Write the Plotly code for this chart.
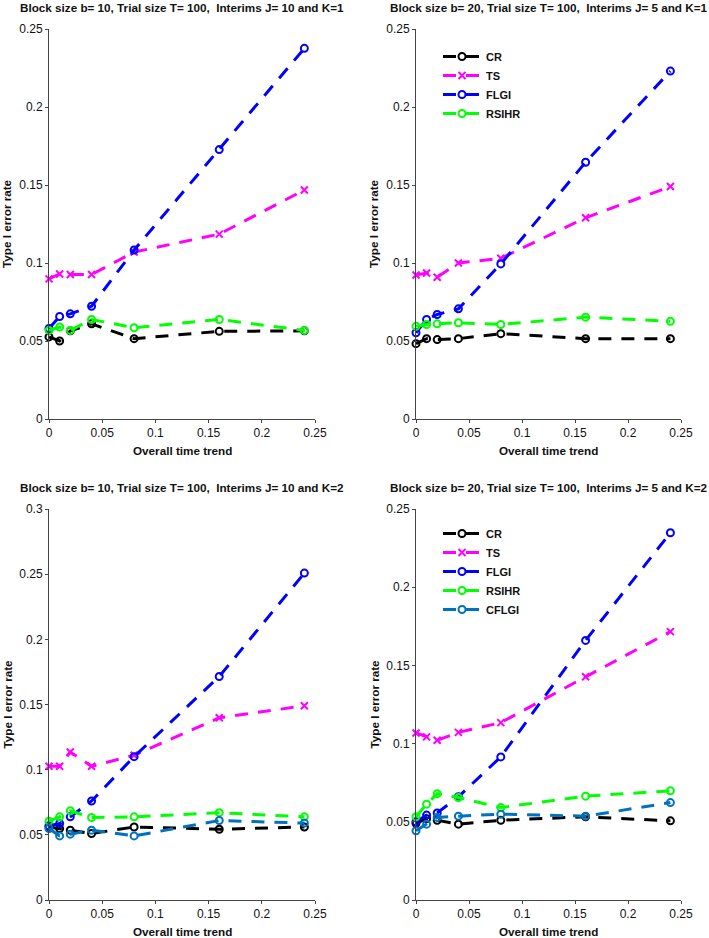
import plotly.graph_objects as go

x_trend = [0, 0.01, 0.02, 0.04, 0.08, 0.16, 0.24]
x_ticks = [0, 0.05, 0.1, 0.15, 0.2, 0.25]
x_ticktext = ["0", "0.05", "0.1", "0.15", "0.2", "0.25"]
y_ticks_a = [0, 0.05, 0.1, 0.15, 0.2, 0.25]
y_ticktext_a = ["0", "0.05", "0.1", "0.15", "0.2", "0.25"]
y_ticks_b = [0, 0.05, 0.1, 0.15, 0.2, 0.25, 0.3]
y_ticktext_b = ["0", "0.05", "0.1", "0.15", "0.2", "0.25", "0.3"]

titles = [
    "Block size b= 10, Trial size T= 100,\u00a0 Interims J= 10 and K=1",
    "Block size b= 20, Trial size T= 100,\u00a0 Interims J= 5 and K=1",
    "Block size b= 10, Trial size T= 100,\u00a0 Interims J= 10 and K=2",
    "Block size b= 20, Trial size T= 100,\u00a0 Interims J= 5 and K=2",
]

# Panel 1: b=10, J=10, K=1
cr_1 = [0.0526, 0.0500, 0.0565, 0.0610, 0.0515, 0.0562, 0.0565]
ts_1 = [0.0898, 0.0930, 0.0926, 0.0926, 0.1070, 0.1185, 0.1468]
flgi_1 = [0.0580, 0.0657, 0.0674, 0.0723, 0.1083, 0.1727, 0.2376]
rsihr_1 = [0.0568, 0.0590, 0.0568, 0.0638, 0.0585, 0.0638, 0.0568]

# Panel 2: b=20, J=5, K=1
cr_2 = [0.0483, 0.0515, 0.0509, 0.0515, 0.0547, 0.0515, 0.0515]
ts_2 = [0.0923, 0.0936, 0.0909, 0.1000, 0.1030, 0.1290, 0.1490]
flgi_2 = [0.0553, 0.0638, 0.0670, 0.0706, 0.0994, 0.1646, 0.2230]
rsihr_2 = [0.0594, 0.0606, 0.0610, 0.0617, 0.0606, 0.0653, 0.0626]

# Panel 3: b=10, J=10, K=2
cr_3 = [0.0560, 0.0548, 0.0536, 0.0510, 0.0560, 0.0543, 0.0560]
ts_3 = [0.1026, 0.1026, 0.1135, 0.1026, 0.1110, 0.1398, 0.1490]
flgi_3 = [0.0570, 0.0587, 0.0638, 0.0760, 0.1100, 0.1715, 0.2508]
rsihr_3 = [0.0605, 0.0638, 0.0684, 0.0633, 0.0638, 0.0670, 0.0638]
cflgi_3 = [0.0548, 0.0492, 0.0505, 0.0536, 0.0492, 0.0610, 0.0590]

# Panel 4: b=20, J=5, K=2
cr_4 = [0.0490, 0.0520, 0.0510, 0.0485, 0.0510, 0.0532, 0.0506]
ts_4 = [0.1068, 0.1043, 0.1021, 0.1072, 0.1134, 0.1427, 0.1716]
flgi_4 = [0.0500, 0.0543, 0.0557, 0.0660, 0.0915, 0.1660, 0.2348]
rsihr_4 = [0.0532, 0.0613, 0.0680, 0.0655, 0.0591, 0.0664, 0.0698]
cflgi_4 = [0.0443, 0.0485, 0.0528, 0.0536, 0.0549, 0.0536, 0.0623]

W, H = 709, 938
FONT = "Liberation Sans, Arial, sans-serif"
LABEL_SIZE = 11.7


def fx(px):
    return px / W


def fy(py):
    return 1 - py / H


styles = {
    "CR": dict(color="#000000", symbol="circle-open"),
    "TS": dict(color="#FF00FF", symbol="x-thin-open"),
    "FLGI": dict(color="#0000FF", symbol="circle-open"),
    "RSIHR": dict(color="#00FF00", symbol="circle-open"),
    "CFLGI": dict(color="#0072BD", symbol="circle-open"),
}

panels = [
    dict(series={"CR": cr_1, "TS": ts_1, "FLGI": flgi_1, "RSIHR": rsihr_1}, legend=None),
    dict(series={"CR": cr_2, "TS": ts_2, "FLGI": flgi_2, "RSIHR": rsihr_2}, legend="legend"),
    dict(series={"CR": cr_3, "TS": ts_3, "FLGI": flgi_3, "RSIHR": rsihr_3, "CFLGI": cflgi_3}, legend=None),
    dict(series={"CR": cr_4, "TS": ts_4, "FLGI": flgi_4, "RSIHR": rsihr_4, "CFLGI": cflgi_4}, legend="legend2"),
]

# pixel boxes (left, right, top, bottom)
boxes = [(49, 315, 29, 419), (416, 681, 29, 419), (49, 315, 509, 900), (416, 681, 509, 900)]
yranges = [(0, 0.25), (0, 0.25), (0, 0.3), (0, 0.25)]
yticks = [(y_ticks_a, y_ticktext_a), (y_ticks_a, y_ticktext_a), (y_ticks_b, y_ticktext_b), (y_ticks_a, y_ticktext_a)]

fig = go.Figure()
annotations = []
for i, p in enumerate(panels):
    n = "" if i == 0 else str(i + 1)
    xa, ya = "x" + n, "y" + n
    for name, vals in p["series"].items():
        st = styles[name]
        fig.add_trace(go.Scatter(
            x=x_trend, y=vals, name=name, xaxis=xa, yaxis=ya,
            mode="lines+markers", cliponaxis=False,
            line=dict(color=st["color"], width=3, dash="13px,10px"),
            marker=dict(symbol=st["symbol"], size=7, color=st["color"],
                        line=dict(color=st["color"], width=2)),
            showlegend=p["legend"] is not None,
            legend=p["legend"] if p["legend"] else "legend",
        ))
    l, r, t, b = boxes[i]
    axcommon = dict(showline=True, linecolor="#444444", linewidth=1, ticks="outside",
                    ticklen=3, tickcolor="#444444", showgrid=False, zeroline=False,
                    automargin=False,
                    tickfont=dict(family=FONT, size=12, color="#111111"))
    fig.layout["xaxis" + n] = dict(domain=[fx(l), fx(r)], anchor=ya, range=[0, 0.25],
                                   tickvals=x_ticks, ticktext=x_ticktext, **axcommon)
    fig.layout["yaxis" + n] = dict(domain=[fy(b), fy(t)], anchor=xa, range=list(yranges[i]),
                                   tickvals=yticks[i][0], ticktext=yticks[i][1], **axcommon)
    annotations.append(dict(text=titles[i], xref=xa + " domain", yref=ya + " domain", x=0.5, y=1,
                            yanchor="middle", xanchor="center", yshift=21, showarrow=False,
                            font=dict(family=FONT, size=LABEL_SIZE, color="#111111", weight="bold")))
    annotations.append(dict(text="Overall time trend", xref=xa + " domain", yref=ya + " domain", x=0.5, y=0,
                            yanchor="middle", xanchor="center", yshift=-31, showarrow=False,
                            font=dict(family=FONT, size=LABEL_SIZE, color="#111111", weight="bold")))
    annotations.append(dict(text="Type I error rate", xref=xa + " domain", yref=ya + " domain", x=0, y=0.5,
                            yanchor="middle", xanchor="center", xshift=-42, textangle=-90, showarrow=False,
                            font=dict(family=FONT, size=LABEL_SIZE, color="#111111", weight="bold")))

legend_style = dict(bgcolor="rgba(0,0,0,0)", borderwidth=0, xanchor="left", yanchor="top",
                    font=dict(family=FONT, size=11, color="#111111", weight="bold"),
                    itemwidth=38, tracegroupgap=0)
fig.update_layout(
    width=W, height=H, margin=dict(l=0, r=0, t=0, b=0, autoexpand=False),
    paper_bgcolor="white", plot_bgcolor="white",
    annotations=annotations,
    legend=dict(x=fx(438), y=fy(42), **legend_style),
    legend2=dict(x=fx(438), y=fy(519), **legend_style),
    showlegend=True,
)
fig.write_html(
    "out.html",
    config={"displayModeBar": False},
    post_script="document.body.style.margin='0';document.body.style.overflow='hidden';",
)
